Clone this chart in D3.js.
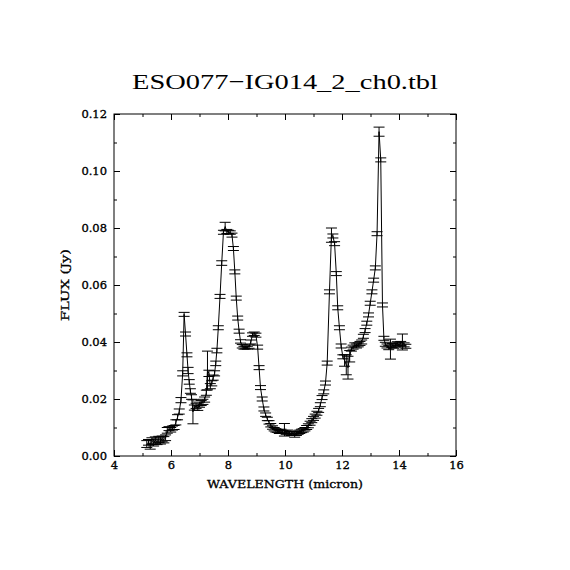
<!DOCTYPE html>
<html>
<head>
<meta charset="utf-8">
<script src="https://cdn.jsdelivr.net/npm/d3@7"></script>
<style>
  body { margin: 0; background: #fff; }
  svg { display: block; }
  .tick text { font-family: "DejaVu Serif", serif; font-size: 11.5px; stroke: #000; stroke-width: 0.35px; }
  .lab { stroke: #000; stroke-width: 0.3px; }
</style>
</head>
<body>
<script>
// spectrum: wavelength (micron), flux (Jy), 1-sigma error (Jy)
const wave = [
  5.15, 5.21, 5.27, 5.33, 5.39, 5.45, 5.51, 5.57, 5.63, 5.69, 5.75, 5.81,
  5.87, 5.93, 5.99, 6.05, 6.11, 6.17, 6.23, 6.29, 6.35, 6.41, 6.46, 6.51,
  6.56, 6.60, 6.64, 6.68, 6.72, 6.77, 6.82, 6.88, 6.94, 7.00, 7.06, 7.12,
  7.18, 7.24, 7.28, 7.33, 7.38, 7.43, 7.48, 7.53,
  7.57, 7.61, 7.66, 7.72, 7.78, 7.84, 7.90, 7.96, 8.02, 8.08, 8.14, 8.19,
  8.24, 8.29, 8.34, 8.39, 8.44, 8.50, 8.56, 8.62, 8.68, 8.74, 8.80, 8.86,
  8.92, 8.98, 9.04, 9.09, 9.14, 9.20, 9.26, 9.32, 9.38, 9.44, 9.50, 9.56,
  9.62, 9.68, 9.74, 9.80, 9.86, 9.92, 9.98, 10.04, 10.10, 10.16, 10.22, 10.28,
  10.34, 10.40, 10.46, 10.52, 10.58, 10.64, 10.70, 10.76, 10.82, 10.88, 10.94, 11.00,
  11.06, 11.12, 11.18, 11.24, 11.30, 11.36, 11.42, 11.48, 11.56, 11.63, 11.68, 11.74,
  11.80, 11.85, 11.91, 11.97, 12.03, 12.09, 12.15, 12.21, 12.27, 12.33, 12.39, 12.45,
  12.51, 12.57, 12.63, 12.69, 12.75, 12.81, 12.87, 12.93, 12.99, 13.05, 13.11, 13.17,
  13.23, 13.30, 13.36, 13.42, 13.47, 13.52, 13.58, 13.64, 13.70, 13.76, 13.82, 13.88,
  13.94, 14.00, 14.06, 14.12, 14.18, 14.24
];
const flux = [
  0.0042, 0.0048, 0.0040, 0.0052, 0.0046, 0.0055, 0.0050, 0.0058, 0.0054, 0.0060, 0.0057, 0.0064,
  0.0090, 0.0096, 0.0092, 0.0098, 0.0100, 0.0118, 0.0136, 0.0156, 0.0196, 0.0290, 0.0497, 0.0428,
  0.0355, 0.0300, 0.0260, 0.0228, 0.0207, 0.0155, 0.0170, 0.0176, 0.0168, 0.0180, 0.0186, 0.0190,
  0.0198, 0.0222, 0.0300, 0.0290, 0.0245, 0.0255, 0.0275, 0.0290,
  0.0325, 0.0370, 0.0450, 0.0560, 0.0677, 0.0785, 0.0805, 0.0788, 0.0786, 0.0784, 0.0775, 0.0728,
  0.0646, 0.0554, 0.0484, 0.0438, 0.0402, 0.0385, 0.0380, 0.0381, 0.0380, 0.0384, 0.0400, 0.0426,
  0.0429, 0.0424, 0.0382, 0.0310, 0.0240, 0.0200, 0.0165, 0.0145, 0.0130, 0.0118, 0.0108, 0.0100,
  0.0094, 0.0090, 0.0088, 0.0085, 0.0088, 0.0085, 0.0092, 0.0082, 0.0085, 0.0080, 0.0078, 0.0080,
  0.0076, 0.0078, 0.0082, 0.0085, 0.0088, 0.0090, 0.0094, 0.0100, 0.0106, 0.0115, 0.0124, 0.0132,
  0.0140, 0.0150, 0.0160, 0.0180, 0.0205, 0.0225, 0.0256, 0.0326, 0.0576, 0.0775, 0.0772, 0.0745,
  0.0640, 0.0520, 0.0450, 0.0386, 0.0348, 0.0335, 0.0320, 0.0310, 0.0350, 0.0375, 0.0382, 0.0390,
  0.0386, 0.0390, 0.0395, 0.0400, 0.0420, 0.0440, 0.0466, 0.0495, 0.0536, 0.0576, 0.0617, 0.0660,
  0.0780, 0.1138, 0.1039, 0.0530, 0.0413, 0.0392, 0.0386, 0.0380, 0.0375, 0.0388, 0.0385, 0.0390,
  0.0394, 0.0390, 0.0395, 0.0400, 0.0390, 0.0385
];
const err = [
  0.0012, 0.0010, 0.0016, 0.0012, 0.0011, 0.0012, 0.0010, 0.0011, 0.0012, 0.0010, 0.0011, 0.0010,
  0.0010, 0.0007, 0.0008, 0.0007, 0.0007, 0.0009, 0.0009, 0.0009, 0.0009, 0.0009, 0.0007, 0.0007,
  0.0007, 0.0011, 0.0008, 0.0008, 0.0008, 0.0042, 0.0009, 0.0009, 0.0008, 0.0009, 0.0009, 0.0009,
  0.0009, 0.0009, 0.0068, 0.0011, 0.0009, 0.0009, 0.0009, 0.0009,
  0.0008, 0.0008, 0.0007, 0.0007, 0.0008, 0.0007, 0.0015, 0.0007, 0.0006, 0.0006, 0.0007, 0.0007,
  0.0007, 0.0007, 0.0007, 0.0007, 0.0006, 0.0006, 0.0005, 0.0005, 0.0005, 0.0006, 0.0007, 0.0006,
  0.0006, 0.0007, 0.0007, 0.0007, 0.0007, 0.0007, 0.0007, 0.0006, 0.0006, 0.0006, 0.0006, 0.0006,
  0.0006, 0.0006, 0.0005, 0.0006, 0.0006, 0.0005, 0.0022, 0.0006, 0.0006, 0.0006, 0.0006, 0.0006,
  0.0010, 0.0006, 0.0006, 0.0006, 0.0006, 0.0006, 0.0006, 0.0007, 0.0007, 0.0007, 0.0007, 0.0007,
  0.0007, 0.0007, 0.0007, 0.0007, 0.0007, 0.0007, 0.0007, 0.0007, 0.0007, 0.0025, 0.0007, 0.0007,
  0.0007, 0.0007, 0.0007, 0.0007, 0.0007, 0.0020, 0.0035, 0.0040, 0.0020, 0.0007, 0.0007, 0.0007,
  0.0007, 0.0007, 0.0007, 0.0007, 0.0007, 0.0007, 0.0007, 0.0007, 0.0007, 0.0007, 0.0007, 0.0007,
  0.0007, 0.0016, 0.0007, 0.0007, 0.0007, 0.0007, 0.0007, 0.0007, 0.0035, 0.0007, 0.0007, 0.0007,
  0.0007, 0.0007, 0.0007, 0.0028, 0.0007, 0.0007
];

const xMajor = [4, 6, 8, 10, 12, 14, 16];
const xMinor = [5, 7, 9, 11, 13, 15];
const yMajor = [0, 0.02, 0.04, 0.06, 0.08, 0.10, 0.12];
const yMinor = [0.01, 0.03, 0.05, 0.07, 0.09, 0.11];

const W = 570, H = 570;
const pLeft = 114, pRight = 456, pTop = 114, pBottom = 456;
const capHalf = 5.5;

const x = d3.scaleLinear().domain([4, 16]).range([pLeft, pRight]);
const y = d3.scaleLinear().domain([0, 0.12]).range([pBottom, pTop]);

const svg = d3.select('body').append('svg')
  .attr('width', W)
  .attr('height', H);

const data = wave.map((w, i) => ({ w: w, f: flux[i], e: err[i] }));

// frame
svg.append('rect')
  .attr('x', pLeft).attr('y', pTop)
  .attr('width', pRight - pLeft).attr('height', pBottom - pTop)
  .attr('fill', 'none').attr('stroke', '#000').attr('stroke-width', 1);

// inward ticks on all four sides
function tickAxis(axis, tr, vals, size, labels, pad) {
  const g = svg.append('g')
    .attr('transform', tr)
    .call(axis.tickValues(vals).tickSize(-size).tickSizeOuter(0).tickPadding(pad || 0)
      .tickFormat(labels ? labels : ''));
  g.select('.domain').remove();
  g.selectAll('.tick line').attr('stroke', '#000');
  return g;
}

tickAxis(d3.axisBottom(x), `translate(0,${pBottom})`, xMajor, 6, d3.format('d'), 5);
tickAxis(d3.axisBottom(x), `translate(0,${pBottom})`, xMinor, 3, null);
tickAxis(d3.axisTop(x), `translate(0,${pTop})`, xMajor, 6, null);
tickAxis(d3.axisTop(x), `translate(0,${pTop})`, xMinor, 3, null);

tickAxis(d3.axisLeft(y), `translate(${pLeft},0)`, yMajor, 6, d3.format('.2f'), 7);
tickAxis(d3.axisLeft(y), `translate(${pLeft},0)`, yMinor, 3, null);
tickAxis(d3.axisRight(y), `translate(${pRight},0)`, yMajor, 6, null);
tickAxis(d3.axisRight(y), `translate(${pRight},0)`, yMinor, 3, null);

// connecting line
svg.append('path')
  .datum(data)
  .attr('fill', 'none')
  .attr('stroke', '#000')
  .attr('stroke-width', 1)
  .attr('d', d3.line().x(d => x(d.w)).y(d => y(d.f)));

// error bars with caps
const bars = svg.append('g').attr('stroke', '#000').attr('stroke-width', 1);
bars.selectAll('line.v').data(data).join('line')
  .attr('class', 'v')
  .attr('x1', d => x(d.w)).attr('x2', d => x(d.w))
  .attr('y1', d => y(d.f - d.e)).attr('y2', d => y(d.f + d.e));
bars.selectAll('line.lo').data(data).join('line')
  .attr('class', 'lo')
  .attr('x1', d => x(d.w) - capHalf).attr('x2', d => x(d.w) + capHalf)
  .attr('y1', d => y(d.f - d.e)).attr('y2', d => y(d.f - d.e));
bars.selectAll('line.hi').data(data).join('line')
  .attr('class', 'hi')
  .attr('x1', d => x(d.w) - capHalf).attr('x2', d => x(d.w) + capHalf)
  .attr('y1', d => y(d.f + d.e)).attr('y2', d => y(d.f + d.e));

// titles
svg.append('text')
  .attr('x', 285).attr('y', 89)
  .attr('text-anchor', 'middle')
  .attr('font-family', '"Liberation Serif", serif')
  .attr('font-size', 22)
  .attr('textLength', 306).attr('lengthAdjust', 'spacingAndGlyphs')
  .text('ESO077\u2212IG014_2_ch0.tbl');

svg.append('text')
  .attr('class', 'lab')
  .attr('x', 285).attr('y', 488)
  .attr('text-anchor', 'middle')
  .attr('font-family', '"DejaVu Serif", serif')
  .attr('font-size', 11)
  .attr('textLength', 156).attr('lengthAdjust', 'spacingAndGlyphs')
  .text('WAVELENGTH (micron)');

svg.append('text')
  .attr('class', 'lab')
  .attr('transform', 'translate(69,285) rotate(-90)')
  .attr('text-anchor', 'middle')
  .attr('font-family', '"DejaVu Serif", serif')
  .attr('font-size', 11)
  .attr('textLength', 72).attr('lengthAdjust', 'spacingAndGlyphs')
  .text('FLUX (Jy)');
</script>
</body>
</html>
